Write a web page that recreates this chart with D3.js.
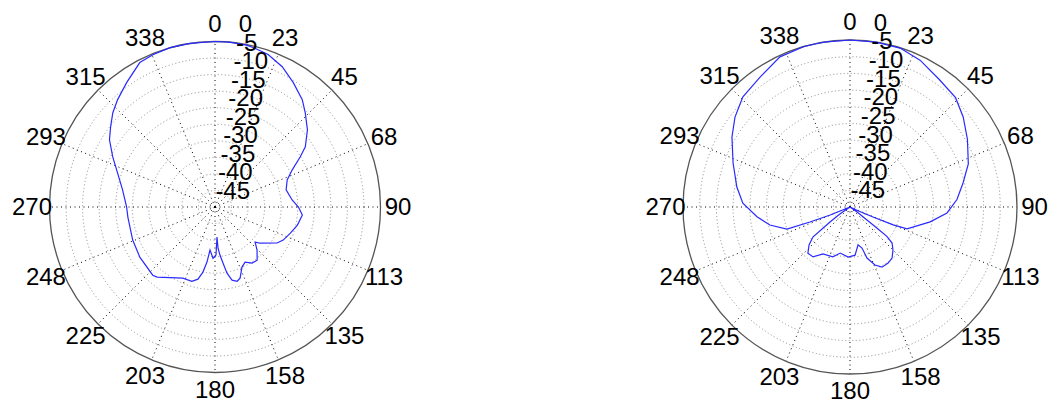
<!DOCTYPE html>
<html>
<head>
<meta charset="utf-8">
<script src="https://cdn.jsdelivr.net/npm/d3@7"></script>
<style>
  html, body { margin: 0; padding: 0; background: #fff; }
  svg { display: block; }
  text { font-family: "Liberation Sans", Arial, sans-serif; fill: #000; }
</style>
</head>
<body>
<svg id="chart" width="1053" height="403"></svg>
<script>
// Radiation patterns, gain in dB versus azimuth (degrees, 0 at top, clockwise)
const leftAngles = [0, 5, 11, 13.4, 19.2, 25.6, 32.2, 39.1, 43.8, 50.1, 56.3, 59.5, 64.3, 69.4, 76.5,
  84.8, 90, 95.3, 102.4, 109.1, 115.9, 120.1, 128.7, 131.2, 135.7, 141.6, 146.5, 151.4, 155.8,
  160.6, 163.4, 166.9, 169.7, 171.9, 174.1, 175.8, 176.2, 178.8, 182.2, 186.6, 188.3, 190.5,
  193.3, 197.3, 204.3, 219.6, 222.4, 236.3, 248.1, 263.4, 270, 280.5, 289.3, 296.1, 302.5,
  307.6, 312.7, 317.8, 324.6, 332.5, 338, 344.3, 351.3, 360];
const leftGain = [0, 0, -0.2, -0.45, -1.2, -3.0, -5.6, -8.2, -10.6, -13.6, -17.2, -20.1, -24.1, -26.7, -27.9,
  -26.6, -24.8, -23.5, -24.5, -25.9, -27.1, -28.3, -32.5, -33.9, -31.8, -29.5, -29.7, -31.0, -30.1,
  -27.2, -26.6, -27.3, -29.7, -32.9, -35.4, -37.5, -40.9, -35.5, -34.5, -36.9, -33.2, -30.0,
  -27.6, -26.5, -26.4, -22.5, -22.1, -22.7, -23.2, -23.5, -23.3, -21.6, -18.8, -15.6, -12.2,
  -10.2, -8.0, -6.2, -3.9, -0.8, -0.3, 0, 0, 0];

const rightAngles = [0, 9, 17.5, 25.5, 35, 44, 51.5, 60, 70, 78, 86, 93.5, 100.5, 111, 112.5, 113.5,
  115, 120, 125.5, 127.4, 128, 128.5, 130.6, 135, 140.5, 145.8, 152, 156.7, 161.6, 163.7, 168,
  174, 182, 192, 199, 210, 216.5, 222.4, 227.2, 231, 233, 235, 240, 248, 249.5, 250.7, 257.3,
  264, 272, 280, 290.6, 300.7, 308, 315.8, 325.3, 335, 344, 351, 360];
const rightGain = [0, 0, -0.1, -1.3, -3.4, -4.5, -6.7, -9.4, -12.3, -15.4, -17.9, -20.9, -25.6, -31.7, -36, -42.5,
  -47, -50, -47.4, -43.6, -39.8, -35.9, -33.4, -31.8, -30.2, -29.7, -29.6, -31.1, -33.9, -37.2, -38.4,
  -35.5, -35.0, -35.9, -34.2, -33.8, -31.4, -31.3, -33.3, -35.7, -42.5, -46.3, -50, -43.6, -37.2, -30, -25.4,
  -22, -17.9, -15.6, -12.6, -8.9, -6.3, -4.0, -2.7, -0.4, 0, 0, 0];

// Angular ticks and their labels
const spokeAngles = [0, 22.5, 45, 67.5, 90, 112.5, 135, 157.5, 180, 202.5, 225, 247.5, 270, 292.5, 315, 337.5];
const spokeLabels = ["0", "23", "45", "68", "90", "113", "135", "158", "180", "203", "225", "248", "270", "293", "315", "338"];

// Radial (dB) rings and their labels
const ringLevels = [0, -5, -10, -15, -20, -25, -30, -35, -40, -45];
const ringLabels = ["0", "-5", "-10", "-15", "-20", "-25", "-30", "-35", "-40", "-45"];
const dbDomain = [-50, 0];

const svg = d3.select("#chart");
const FONT = 24;
const HALF_CAP = 0.358 * FONT; // shifts the baseline so digits sit centred on their anchor

function drawPolar(cx, cy, R, angles, gains) {
  const g = svg.append("g").attr("transform", `translate(${cx},${cy})`);
  const r = d3.scaleLinear().domain(dbDomain).range([0, R]).clamp(true);
  const ang = d3.scaleLinear().domain([0, 360]).range([0, 2 * Math.PI]);
  const pt = (deg, rad) => [rad * Math.sin(ang(deg)), -rad * Math.cos(ang(deg))];

  // dotted rings
  g.selectAll("circle.ring").data(ringLevels.slice(1).concat([-49.5])).join("circle")
    .attr("class", "ring")
    .attr("r", d => r(d))
    .attr("fill", "none")
    .attr("stroke", "#8a8a8a")
    .attr("stroke-width", 1)
    .attr("stroke-dasharray", "1,2.5");

  // dotted spokes
  g.selectAll("line.spoke").data(spokeAngles).join("line")
    .attr("class", "spoke")
    .attr("x1", 0).attr("y1", 0)
    .attr("x2", d => pt(d, R)[0])
    .attr("y2", d => pt(d, R)[1])
    .attr("stroke", "#000")
    .attr("stroke-width", 1)
    .attr("stroke-dasharray", "1,3.5");

  // outer boundary
  g.append("circle")
    .attr("r", r(0))
    .attr("fill", "none")
    .attr("stroke", "#555")
    .attr("stroke-width", 1.3);

  // pattern trace
  const data = angles.map((a, i) => ({ a: a, v: gains[i] }));
  const line = d3.lineRadial()
    .angle(d => ang(d.a))
    .radius(d => r(d.v));
  g.append("path")
    .datum(data)
    .attr("d", line)
    .attr("fill", "none")
    .attr("stroke", "#2a2aff")
    .attr("stroke-width", 1.2);

  // angle labels just outside the boundary
  g.selectAll("text.alabel").data(spokeAngles).join("text")
    .attr("class", "alabel")
    .attr("x", d => pt(d, R + 17.5)[0])
    .attr("y", d => pt(d, R + 17.5)[1] - 1 + HALF_CAP)
    .attr("text-anchor", "middle")
    .attr("font-size", FONT)
    .text((d, i) => spokeLabels[i]);

  // ring labels, stacked along a slanted ray
  g.selectAll("text.rlabel").data(ringLevels).join("text")
    .attr("class", "rlabel")
    .attr("x", d => 0.14 * (1.115 * r(d) - 1.4) - 2)
    .attr("y", d => -(1.115 * r(d) - 1.4) + HALF_CAP)
    .attr("text-anchor", "start")
    .attr("font-size", FONT)
    .text((d, i) => ringLabels[i]);
}

drawPolar(215, 207, 165.5, leftAngles, leftGain);
drawPolar(850, 207, 167, rightAngles, rightGain);
</script>
</body>
</html>
